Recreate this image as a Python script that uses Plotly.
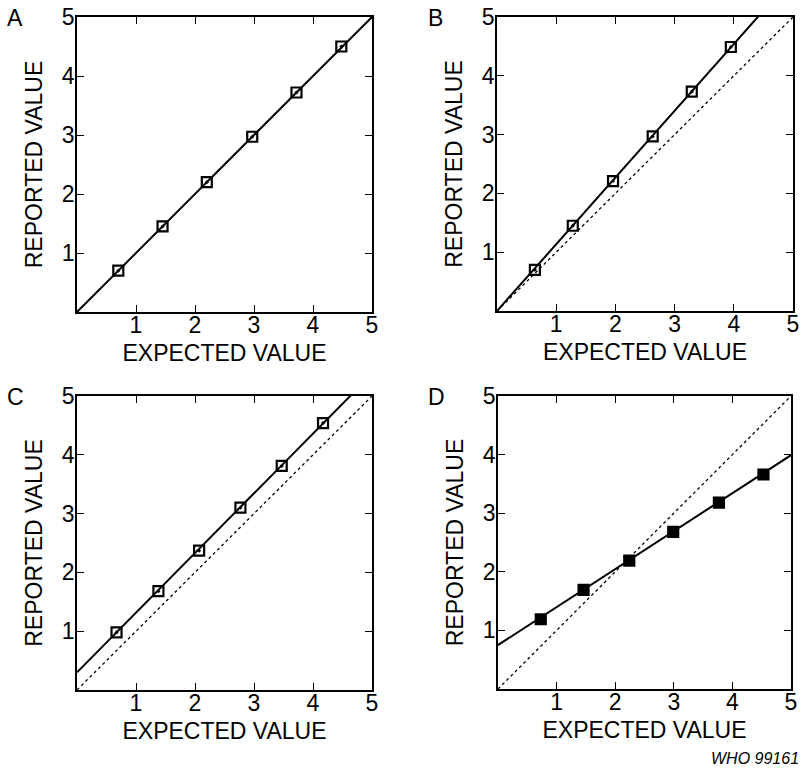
import plotly.graph_objects as go

# Measured points for each panel (expected vs reported)
a_expected = [0.70, 1.45, 2.20, 2.97, 3.72, 4.48]
a_reported = [0.70, 1.45, 2.20, 2.97, 3.72, 4.50]

b_expected = [0.64, 1.28, 1.96, 2.63, 3.29, 3.95]
b_reported = [0.70, 1.45, 2.21, 2.97, 3.73, 4.49]

c_expected = [0.67, 1.38, 2.07, 2.77, 3.47, 4.17]
c_reported = [0.98, 1.68, 2.37, 3.10, 3.81, 4.54]

d_expected = [0.73, 1.46, 2.24, 2.99, 3.77, 4.53]
d_reported = [1.19, 1.69, 2.19, 2.68, 3.18, 3.66]

# Fitted lines: (slope, intercept) for each panel
fit_lines = {
    "A": (1.0, 0.0),
    "B": (1.135, 0.0),
    "C": (1.015, 0.30),
    "D": (0.648, 0.75),
}

panel_labels = ["A", "B", "C", "D"]
tick_values = [1, 2, 3, 4, 5]
tick_text = ["1", "2", "3", "4", "5"]
x_title = "EXPECTED VALUE"
y_title = "REPORTED VALUE"
footer_text = "WHO 99161"

W, H = 801, 769
# Plot-area boxes in pixels: (left, right, top, bottom)
boxes = {
    "A": (77, 372, 17, 312),
    "B": (497, 793, 17, 311),
    "C": (77, 372, 396, 690),
    "D": (498, 791, 396, 689),
}

series = {
    "A": (a_expected, a_reported),
    "B": (b_expected, b_reported),
    "C": (c_expected, c_reported),
    "D": (d_expected, d_reported),
}

FONT = "Liberation Sans, Arial, Helvetica, sans-serif"

fig = go.Figure()
layout = {}

for i, key in enumerate(panel_labels):
    n = "" if i == 0 else str(i + 1)
    xa, ya = "x" + n, "y" + n
    left, right, top, bottom = boxes[key]
    ex, rep = series[key]
    slope, icpt = fit_lines[key]

    # identity reference line (dotted) for panels B-D
    if key != "A":
        fig.add_trace(go.Scatter(
            x=[0, 5], y=[0, 5], mode="lines", xaxis=xa, yaxis=ya,
            line=dict(color="black", width=1.3, dash="dot"),
            showlegend=False, hoverinfo="skip"))

    # fitted line, extended across the full axis range
    fig.add_trace(go.Scatter(
        x=[0, 5], y=[icpt, icpt + slope * 5], mode="lines", xaxis=xa, yaxis=ya,
        line=dict(color="black", width=2),
        showlegend=False, hoverinfo="skip"))

    sym = "square" if key == "D" else "square-open-dot"
    fig.add_trace(go.Scatter(
        x=ex, y=rep, mode="markers", xaxis=xa, yaxis=ya,
        marker=dict(symbol=sym, size=10, color="black",
                    line=dict(color="black", width=2.2)),
        cliponaxis=False, showlegend=False))

    axis_common = dict(
        range=[0, 5], tickvals=tick_values, ticktext=tick_text,
        ticks="inside", ticklen=7, tickwidth=1.2, tickcolor="black",
        showline=True, linecolor="black", linewidth=1.5, mirror="ticks",
        showgrid=False, zeroline=False, automargin=False,
        tickfont=dict(family=FONT, size=23, color="black"),
    )
    layout["xaxis" + n] = dict(
        axis_common,
        domain=[left / W, right / W], anchor=ya,
        ticklabelstandoff=-8,
        title=dict(text=x_title, font=dict(family=FONT, size=23, color="black"),
                   standoff=8),
    )
    layout["yaxis" + n] = dict(
        axis_common,
        domain=[1 - bottom / H, 1 - top / H], anchor=xa,
        ticklabelstandoff=-4,
        title=dict(text=y_title, font=dict(family=FONT, size=23, color="black"),
                   standoff=13),
    )

annotations = []
for key in panel_labels:
    left, right, top, bottom = boxes[key]
    annotations.append(dict(
        text=key, x=(left - 62) / W, y=1 - (top + 1) / H,
        xref="paper", yref="paper", xanchor="center", yanchor="middle",
        showarrow=False, font=dict(family=FONT, size=23, color="black")))
annotations.append(dict(
    text="<i>" + footer_text + "</i>", x=1.0, y=1 - 758 / H,
    xref="paper", yref="paper", xanchor="right", yanchor="middle",
    showarrow=False, font=dict(family=FONT, size=16, color="black")))

fig.update_layout(
    width=W, height=H,
    margin=dict(l=0, r=0, t=0, b=0),
    paper_bgcolor="white", plot_bgcolor="white",
    annotations=annotations,
    **layout,
)

fig.write_html("out.html")
